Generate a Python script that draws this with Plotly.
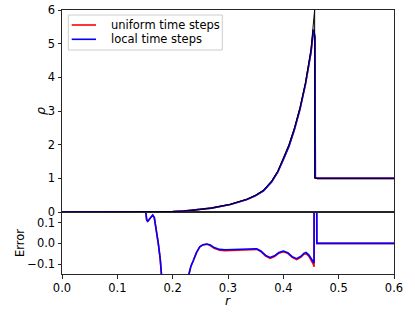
import plotly.graph_objects as go

# ---------------- data ----------------
r_exact = [0.0, 0.10, 0.15, 0.18, 0.20, 0.22, 0.243, 0.27, 0.304, 0.334, 0.35,
           0.364, 0.379, 0.39, 0.40, 0.41, 0.42, 0.43, 0.44, 0.45, 0.4566, 0.4566, 0.6]
rho_exact = [0.0, 0.0, 0.0, 0.003, 0.012, 0.03, 0.06, 0.12, 0.23, 0.38, 0.5,
             0.65, 0.93, 1.22, 1.6, 2.0, 2.5, 3.1, 3.85, 4.85, 6.0, 1.0, 1.0]

r_num = [0.0, 0.10, 0.15, 0.18, 0.20, 0.22, 0.243, 0.27, 0.304, 0.334, 0.35,
         0.364, 0.379, 0.39, 0.40, 0.41, 0.42, 0.43, 0.44, 0.45, 0.4545, 0.4572,
         0.4578, 0.4614, 0.6]
rho_uniform = [0.0, 0.0, 0.0, 0.003, 0.012, 0.03, 0.06, 0.115, 0.225, 0.37, 0.49,
               0.63, 0.90, 1.19, 1.56, 1.95, 2.45, 3.05, 3.8, 4.74, 5.40, 5.18,
               1.02, 1.0, 1.0]
rho_local = [0.0, 0.0, 0.0, 0.003, 0.012, 0.03, 0.06, 0.115, 0.225, 0.37, 0.49,
             0.63, 0.90, 1.19, 1.56, 1.95, 2.45, 3.05, 3.8, 4.75, 5.42, 5.20,
             1.02, 1.0, 1.0]

r_err = [0.0, 0.1510, 0.1515, 0.1531, 0.155, 0.1585, 0.1639, 0.1668, 0.170, 0.174,
         0.1775, 0.1813, 0.185, 0.19, 0.22, 0.226, 0.2295, 0.233, 0.237, 0.243,
         0.249, 0.255, 0.262, 0.268, 0.275, 0.285, 0.295, 0.305, 0.315, 0.325,
         0.335, 0.345, 0.352, 0.36, 0.368, 0.376, 0.384, 0.392, 0.40, 0.408,
         0.416, 0.424, 0.432, 0.437, 0.441, 0.446, 0.450, 0.454, 0.4555, 0.4562,
         0.4598, 0.4605, 0.6]
err_local = [1.0, 1.0, 0.15, 0.113, 0.107, 0.12, 0.137, 0.125, 0.075, 0.0,
             -0.075, -0.148, -0.2, -0.5, -0.5, -0.2, -0.148, -0.11, -0.085, -0.045,
             -0.016, -0.006, -0.003, -0.008, -0.02, -0.029, -0.031, -0.030, -0.032, -0.031,
             -0.030, -0.027, -0.026, -0.038, -0.058, -0.068, -0.060, -0.044, -0.037, -0.045,
             -0.064, -0.074, -0.062, -0.048, -0.044, -0.055, -0.072, -0.089, -0.095, 1.0,
             1.0, 0.0, 0.0]
err_uniform = [1.0, 1.0, 0.15, 0.113, 0.107, 0.12, 0.137, 0.125, 0.075, 0.0,
               -0.075, -0.148, -0.2, -0.5, -0.5, -0.2, -0.148, -0.11, -0.085, -0.045,
               -0.017, -0.007, -0.004, -0.010, -0.023, -0.033, -0.035, -0.034, -0.036, -0.035,
               -0.034, -0.030, -0.029, -0.041, -0.061, -0.072, -0.063, -0.047, -0.040, -0.048,
               -0.067, -0.078, -0.066, -0.052, -0.050, -0.062, -0.080, -0.100, -0.113, 1.0,
               1.0, 0.0, 0.0]

series_names = ["uniform time steps", "local time steps"]
x_ticks = [0.0, 0.1, 0.2, 0.3, 0.4, 0.5, 0.6]
x_tick_labels = ["0.0", "0.1", "0.2", "0.3", "0.4", "0.5", "0.6"]
rho_ticks = [0, 1, 2, 3, 4, 5, 6]
err_ticks = [-0.1, 0.0, 0.1]
err_tick_labels = ["\u22120.1", "0.0", "0.1"]

# ---------------- figure ----------------
RED = "#ff0000"
BLUE = "#0000ff"
COLORS = [RED, BLUE]
FONT = "DejaVu Sans"
FS = 11.5
AX = "#262626"

W, H = 415, 312
ML, MR, MT, MB = 62, 21, 10, 38
PW, PH = W - ML - MR, H - MT - MB


def px(xp):
    return (xp - ML) / PW


def py(yp):
    return (H - MB - yp) / PH


fig = go.Figure()
fig.add_trace(go.Scatter(x=r_num, y=rho_uniform, mode="lines", name=series_names[0],
                         line=dict(color=RED, width=1.6), xaxis="x2", yaxis="y2"))
fig.add_trace(go.Scatter(x=r_num, y=rho_local, mode="lines", name=series_names[1],
                         line=dict(color=BLUE, width=1.6), xaxis="x2", yaxis="y2"))
fig.add_trace(go.Scatter(x=r_exact, y=rho_exact, mode="lines", name="exact",
                         line=dict(color="black", width=1.0), xaxis="x2", yaxis="y2"))
fig.add_trace(go.Scatter(x=r_err, y=err_uniform, mode="lines",
                         line=dict(color=RED, width=1.6), xaxis="x", yaxis="y"))
fig.add_trace(go.Scatter(x=r_err, y=err_local, mode="lines",
                         line=dict(color=BLUE, width=1.6), xaxis="x", yaxis="y"))

split = 62 / PH
axis_common = dict(showline=True, linecolor=AX, linewidth=1, mirror=True,
                   showgrid=False, zeroline=False, automargin=False,
                   tickfont=dict(family=FONT, size=FS, color="black"),
                   ticks="outside", ticklen=3.5, tickwidth=0.8, tickcolor=AX)

fig.update_layout(
    width=W, height=H,
    margin=dict(l=ML, r=MR, t=MT, b=MB, autoexpand=False),
    paper_bgcolor="white", plot_bgcolor="white",
    font=dict(family=FONT, size=FS, color="black"),
    xaxis=dict(domain=[0, 1], anchor="y", range=[0, 0.6],
               tickvals=x_ticks, ticktext=x_tick_labels, **axis_common),
    yaxis=dict(domain=[0, split], anchor="x", range=[-0.148, 0.152],
               tickvals=err_ticks, ticktext=err_tick_labels, **axis_common),
    xaxis2=dict(domain=[0, 1], anchor="y2", range=[0, 0.6], matches="x",
                tickvals=x_ticks, showticklabels=False,
                **{k: v for k, v in axis_common.items() if k not in ("ticks",)}, ticks=""),
    yaxis2=dict(domain=[split, 1], anchor="x2", range=[0, 6],
                tickvals=rho_ticks, **axis_common),
    showlegend=False,
)

# legend drawn by hand (matplotlib-style compact spacing)
fig.add_shape(type="rect", xref="paper", yref="paper",
              x0=px(68.3), x1=px(222.3), y0=py(50), y1=py(15),
              line=dict(color="#cccccc", width=1), fillcolor="rgba(255,255,255,0.8)",
              layer="above")
for i, (name, col) in enumerate(zip(series_names, COLORS)):
    yc = 25 + i * 14.3
    fig.add_shape(type="line", xref="paper", yref="paper",
                  x0=px(71.7), x1=px(96), y0=py(yc), y1=py(yc),
                  line=dict(color=col, width=1.6), layer="above")
    fig.add_annotation(text=name, xref="paper", yref="paper", x=px(109.3), y=py(yc),
                       xanchor="left", yanchor="middle", showarrow=False,
                       font=dict(family=FONT, size=FS, color="black"))

fig.add_annotation(text="<i>ρ</i>", xref="paper", yref="paper", x=0, y=(1 + split) / 2,
                   xshift=-22, textangle=-90, showarrow=False,
                   font=dict(family=FONT, size=FS + 1, color="black"),
                   xanchor="center", yanchor="middle")
fig.add_annotation(text="Error", xref="paper", yref="paper", x=0, y=split / 2,
                   xshift=-42, textangle=-90, showarrow=False,
                   font=dict(family=FONT, size=FS, color="black"),
                   xanchor="center", yanchor="middle")
fig.add_annotation(text="<i>r</i>", xref="paper", yref="paper", x=0.5, y=0,
                   yshift=-26, showarrow=False,
                   font=dict(family=FONT, size=FS + 1, color="black"),
                   xanchor="center", yanchor="middle")

fig.write_html("out.html", config={"displayModeBar": False},
               post_script="document.body.style.margin='0';document.body.style.overflow='hidden';")
